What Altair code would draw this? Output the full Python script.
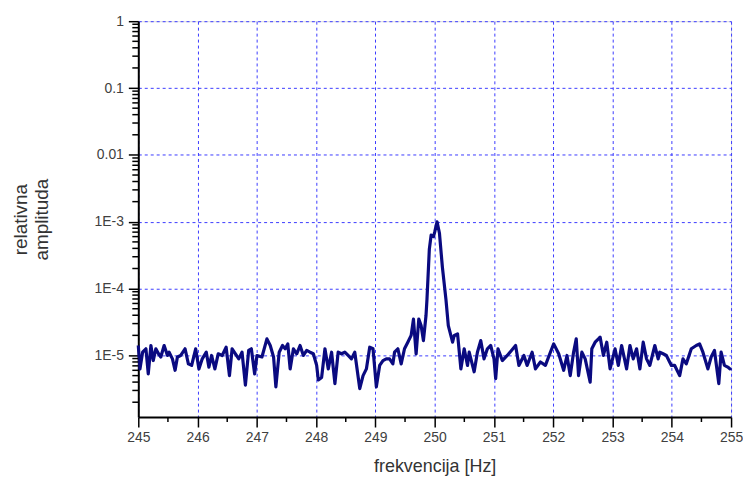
import altair as alt
import pandas as pd

# frequency [Hz] and relative amplitude (in units of 1e-5)
freq = [
    245.0, 245.028, 245.073, 245.129, 245.168, 245.213, 245.252, 245.296, 245.341, 245.380,
    245.436, 245.492, 245.520, 245.576, 245.621, 245.660, 245.716, 245.789, 245.845, 245.900,
    245.968, 246.023, 246.079, 246.147, 246.191, 246.236, 246.292, 246.348, 246.415, 246.482,
    246.538, 246.583, 246.639, 246.695, 246.750, 246.807, 246.862, 246.907, 246.963, 247.002,
    247.086, 247.170, 247.226, 247.282, 247.321, 247.377, 247.433, 247.478, 247.522, 247.562,
    247.617, 247.673, 247.729, 247.785, 247.841, 247.897, 247.953, 248.009, 248.037, 248.093,
    248.149, 248.205, 248.261, 248.317, 248.372, 248.428, 248.484, 248.540, 248.596, 248.652,
    248.736, 248.792, 248.848, 248.904, 248.960, 249.016, 249.072, 249.128, 249.183, 249.239,
    249.295, 249.323, 249.379, 249.435, 249.491, 249.547, 249.603, 249.642, 249.687, 249.732,
    249.771, 249.810, 249.854, 249.870, 249.910, 249.940, 249.980, 250.000, 250.040, 250.080,
    250.130, 250.190, 250.230, 250.302, 250.330, 250.386, 250.442, 250.498, 250.554, 250.582,
    250.666, 250.721, 250.777, 250.833, 250.889, 250.945, 251.001, 251.029, 251.068, 251.141,
    251.225, 251.365, 251.421, 251.505, 251.560, 251.644, 251.700, 251.784, 251.868, 251.952,
    252.008, 252.092, 252.176, 252.232, 252.287, 252.343, 252.388, 252.427, 252.483, 252.539,
    252.623, 252.651, 252.707, 252.763, 252.791, 252.847, 252.903, 252.959, 253.043, 253.098,
    253.154, 253.238, 253.294, 253.350, 253.406, 253.462, 253.518, 253.574, 253.630, 253.714,
    253.770, 253.797, 253.853, 253.909, 253.993, 254.049, 254.133, 254.189, 254.245, 254.329,
    254.413, 254.469, 254.525, 254.609, 254.664, 254.720, 254.793, 254.832, 254.888, 254.944,
    254.983, 255.0,
]
amp_1e5 = [
    1.41, 0.63, 1.12, 1.26, 0.53, 1.41, 0.84, 1.26, 1.06, 0.95,
    1.41, 1.00, 1.12, 0.89, 0.60, 0.95, 1.00, 1.26, 0.75, 0.71,
    1.26, 0.63, 0.89, 1.12, 0.67, 1.00, 0.63, 1.06, 1.00, 1.33,
    0.50, 1.26, 1.06, 0.89, 1.12, 0.36, 1.19, 1.26, 0.53, 1.00,
    0.95, 1.77, 1.41, 0.95, 0.34, 1.12, 1.41, 1.26, 1.49, 0.63,
    1.26, 1.06, 1.41, 1.00, 1.19, 1.12, 1.06, 0.71, 0.43, 0.47,
    1.26, 0.63, 1.12, 0.38, 1.12, 1.06, 1.12, 1.00, 0.89, 1.12,
    0.32, 0.50, 0.63, 1.33, 1.26, 0.34, 0.71, 0.84, 0.89, 0.89,
    0.75, 1.12, 1.26, 0.75, 1.26, 1.58, 2.00, 3.50, 1.06, 3.50,
    2.80, 1.67, 4.00, 6.90, 39.0, 63.0, 60.0, 70.0, 100.0, 68.0,
    21.0, 6.90, 2.80, 1.58, 2.00, 2.10, 0.63, 1.26, 0.71, 1.12,
    0.57, 1.12, 1.67, 0.89, 1.26, 1.41, 0.89, 0.45, 1.26, 0.84,
    1.00, 1.41, 0.71, 1.00, 0.71, 1.12, 0.63, 0.80, 0.71, 1.12,
    1.49, 1.06, 0.60, 1.00, 0.50, 1.12, 1.77, 0.50, 1.12, 0.89,
    0.40, 1.26, 1.58, 1.77, 1.88, 1.00, 1.58, 0.63, 1.26, 0.71,
    1.41, 0.63, 1.41, 0.89, 1.26, 0.63, 1.58, 0.89, 0.71, 1.41,
    0.89, 1.12, 1.06, 1.00, 0.71, 0.71, 0.50, 0.89, 0.75, 1.26,
    1.41, 1.49, 1.12, 0.63, 0.95, 1.19, 0.38, 1.12, 0.71, 0.67,
    0.63, 0.65,
]

# axis tick positions
x_major = list(range(245, 256))
x_minor = [245.5 + i for i in range(10)]
y_major = [1e-5, 1e-4, 1e-3, 1e-2, 1e-1, 1.0]
y_minor = [m * 10.0 ** e for e in range(-6, 0) for m in range(2, 10)]
y_minor = [v for v in y_minor if v >= 1.5e-6]

df = pd.DataFrame({"f": freq, "a": [v * 1e-5 for v in amp_1e5]})

FONT = "Liberation Sans"
GRID = "#3b3bff"
H = 398

xs = alt.Scale(domain=[245, 255], nice=False, zero=False)
ys = alt.Scale(type="log", domain=[1.2e-6, 1], nice=False)

x_axis = alt.Axis(
    values=x_major, format="d",
    tickSize=10, grid=True, gridColor=GRID, gridDash=[3, 3], gridWidth=1,
    tickColor="black", tickWidth=1.5, domainColor="black", domainWidth=2,
    labelFont=FONT, labelFontSize=14, labelColor="#404040", labelPadding=4,
    labelFlush=False, labelOverlap=False,
    title="frekvencija [Hz]", titleFont=FONT, titleFontSize=18,
    titleFontWeight="normal", titleColor="#333333",
    titleBaseline="alphabetic", titleY=55,
)

y_axis = alt.Axis(
    values=y_major,
    labelExpr="datum.value >= 0.01 ? format(datum.value, '~g') : '1E' + round(log(datum.value)/LN10)",
    tickSize=10, grid=True, gridColor=GRID, gridDash=[3, 3], gridWidth=1,
    tickColor="black", tickWidth=1.5, domainColor="black", domainWidth=2,
    labelFont=FONT, labelFontSize=14, labelColor="#404040", labelPadding=5,
    labelFlush=False, labelOverlap=False, labelBaseline="middle",
    title=["relativna", "amplituda"], titleFont=FONT, titleFontSize=19,
    titleFontWeight="normal", titleColor="#333333",
    titleAngle=-90, titleAlign="center", titleBaseline="middle",
    titleX=-118, titleY=199,
)

line = (
    alt.Chart(df)
    .mark_line(color="#0a0a80", strokeWidth=3.2, strokeJoin="round")
    .encode(
        x=alt.X("f:Q", scale=xs, axis=x_axis),
        y=alt.Y("a:Q", scale=ys, axis=y_axis),
    )
)

xminor = (
    alt.Chart(pd.DataFrame({"f": x_minor}))
    .mark_rule(color="black", strokeWidth=1.5)
    .encode(x=alt.X("f:Q", scale=xs, axis=x_axis), y=alt.value(H), y2=alt.value(H + 5))
)

yminor = (
    alt.Chart(pd.DataFrame({"a": y_minor}))
    .mark_rule(color="black", strokeWidth=1.5)
    .encode(y=alt.Y("a:Q", scale=ys, axis=y_axis), x=alt.value(-6), x2=alt.value(0))
)

chart = (
    alt.layer(line, xminor, yminor)
    .properties(
        width=596, height=H,
        autosize=alt.AutoSizeParams(type="none"),
        padding={"left": 131, "top": 12, "right": 12, "bottom": 58},
    )
    .configure_view(stroke="black", strokeWidth=1.5)
    .configure(background="white")
)

chart.save("out.html", embed_options={"renderer": "svg", "actions": False})
